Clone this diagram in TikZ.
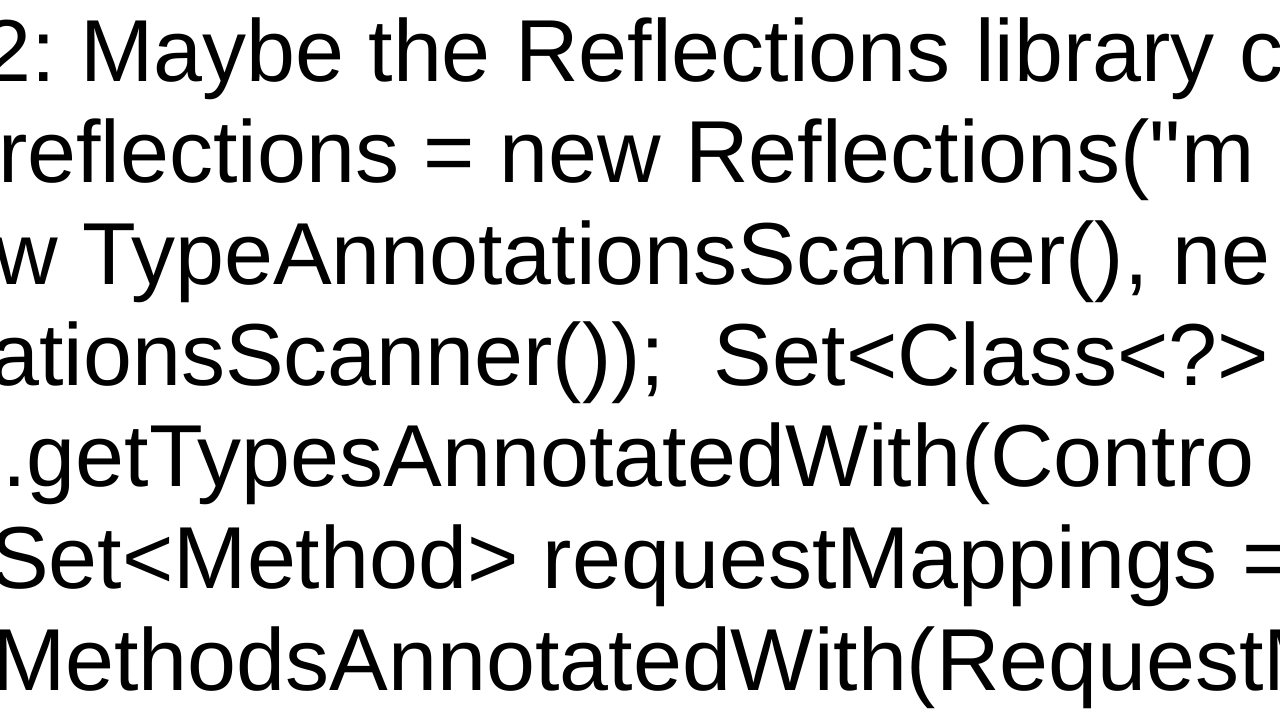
\documentclass[tikz,border=0pt]{standalone}
\usepackage{fontspec}
\setmainfont[Ligatures=TeXOff]{Liberation Sans}
\frenchspacing
\begin{document}
\begin{tikzpicture}[x=0.75pt,y=-0.75pt,
  ln/.style={anchor=base west,inner sep=0pt,font=\fontsize{66pt}{66pt}\selectfont}]
\useasboundingbox (0,0) rectangle (1280,720);
\clip (0,0) rectangle (1280,720);
\fill[white] (0,0) rectangle (1280,720);
\node[ln] (l1) at (-18,82) {2: Maybe the Reflections library c};
\node[ln] (l2) at (-2,183) {reflections = new Reflections(\symbol{34}m};
\node[ln] (l3) at (-6,284) {w TypeAnnotationsScanner(), ne};
\node[ln] (l4) at (-10,385) {ationsScanner());\ \ Set<Class<?>};
\node[ln] (l5) at (2,486) {.getTypesAnnotatedWith(Contro};
\node[ln] (l6) at (-10,588) {Set<Method> requestMappings =};
\node[ln] (l7) at (-8,690) {MethodsAnnotatedWith(RequestM};
\end{tikzpicture}
\end{document}
